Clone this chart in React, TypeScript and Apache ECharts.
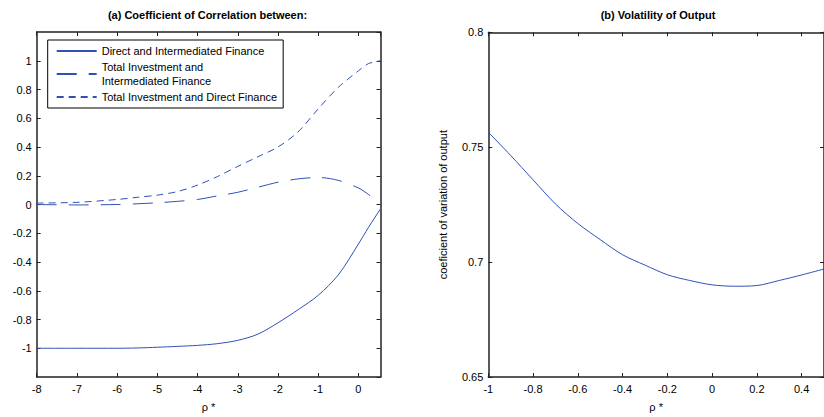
import React, { useEffect, useRef } from "react";
import * as echarts from "echarts";

// Panel (a): rho* grid and correlations
const rhoA = [-8, -7, -6, -5.5, -5, -4.5, -4, -3.5, -3, -2.5, -2, -1.5, -1, -0.5, 0, 0.25, 0.55];
const directIntermediated = [-1.0, -1.0, -1.0, -0.998, -0.993, -0.987, -0.98, -0.968, -0.945, -0.902, -0.823, -0.732, -0.632, -0.49, -0.275, -0.16, -0.03];
const investIntermediated = [0.0, -0.003, 0.0, 0.005, 0.012, 0.022, 0.035, 0.06, 0.085, 0.12, 0.155, 0.178, 0.188, 0.168, 0.115, 0.07, 0.005];
const investDirect = [0.01, 0.015, 0.035, 0.05, 0.065, 0.09, 0.135, 0.195, 0.265, 0.332, 0.4, 0.505, 0.665, 0.815, 0.93, 0.98, 1.0];

// Panel (b): volatility of output
const rhoB = [-1, -0.9, -0.8, -0.7, -0.6, -0.5, -0.4, -0.3, -0.2, -0.1, 0, 0.1, 0.2, 0.3, 0.4, 0.5];
const cvOutput = [0.7565, 0.7464, 0.7358, 0.7253, 0.7168, 0.7098, 0.7032, 0.6987, 0.6945, 0.692, 0.6901, 0.6895, 0.6898, 0.692, 0.6944, 0.697];

const seriesNames = [
  "Direct and Intermediated Finance",
  "Total Investment and\nIntermediated Finance",
  "Total Investment and Direct Finance",
];
const titles = ["(a) Coefficient of Correlation between:", "(b) Volatility of Output"];
const xName = "ρ *";
const yNameB = "coeficient of variation of output";

const FONT = "'Liberation Sans', Arial, sans-serif";
const BLUE = "#3050b8";
const AXIS = "#222";

const pairs = (xs: number[], ys: number[]) => xs.map((x, i) => [x, ys[i]]);

export default function App() {
  const ref = useRef<HTMLDivElement>(null);
  useEffect(() => {
    if (!ref.current) return;
    const chart = echarts.init(ref.current, undefined, { renderer: "svg" });
    const axisLine = { show: true, onZero: false, lineStyle: { color: AXIS, width: 1.5 } };
    const tick = { show: true, inside: true, length: 4, lineStyle: { color: AXIS, width: 1 } };
    const label = { color: "#000", fontSize: 11, fontFamily: FONT };
    const mkX = (gridIndex: number, min: number, max: number, interval: number, pos: "top" | "bottom") => ({
      type: "value",
      gridIndex,
      position: pos,
      min,
      max,
      interval,
      axisLine,
      axisTick: tick,
      splitLine: { show: false },
      axisLabel: pos === "bottom" ? { ...label, margin: 6, showMaxLabel: false } : { show: false },
      name: pos === "bottom" ? xName : "",
      nameLocation: "middle",
      nameGap: 24,
      nameTextStyle: { color: "#000", fontSize: 11, fontFamily: FONT },
    });
    const mkY = (gridIndex: number, min: number, max: number, interval: number, pos: "left" | "right", hideEnds: boolean, name = "") => ({
      type: "value",
      gridIndex,
      position: pos,
      min,
      max,
      interval,
      axisLine,
      axisTick: tick,
      splitLine: { show: false },
      axisLabel: pos === "left" ? { ...label, margin: 5, showMinLabel: !hideEnds, showMaxLabel: !hideEnds } : { show: false },
      name,
      nameLocation: "middle",
      nameGap: 40,
      nameTextStyle: { color: "#000", fontSize: 11, fontFamily: FONT },
    });
    chart.setOption({
      animation: false,
      textStyle: { fontFamily: FONT },
      title: [
        { text: titles[0], left: 207.5, top: 9, textAlign: "center", padding: 0, textStyle: { fontSize: 11, fontWeight: "bold", color: "#000", fontFamily: FONT } },
        { text: titles[1], left: 658, top: 9, textAlign: "center", padding: 0, textStyle: { fontSize: 11, fontWeight: "bold", color: "#000", fontFamily: FONT } },
      ],
      grid: [
        { left: 36.7, top: 32, width: 343.8, height: 345, containLabel: false },
        { left: 488.3, top: 32.3, width: 342.7, height: 345, containLabel: false },
      ],
      xAxis: [
        mkX(0, -8, 0.55, 1, "bottom"),
        mkX(0, -8, 0.55, 1, "top"),
        mkX(1, -1, 0.5, 0.2, "bottom"),
        mkX(1, -1, 0.5, 0.2, "top"),
      ],
      yAxis: [
        mkY(0, -1.2, 1.2, 0.2, "left", true),
        mkY(0, -1.2, 1.2, 0.2, "right", true),
        mkY(1, 0.65, 0.8, 0.05, "left", false, yNameB),
        mkY(1, 0.65, 0.8, 0.05, "right", false),
      ],
      legend: {
        left: 47.7,
        top: 40,
        orient: "vertical",
        selectedMode: false,
        backgroundColor: "#fff",
        borderColor: "#000",
        borderWidth: 1,
        borderRadius: 0,
        padding: [4, 6, 4, 8],
        itemGap: 2,
        itemWidth: 40,
        itemHeight: 14,
        itemStyle: { opacity: 0 },
        textStyle: { fontSize: 11, lineHeight: 14, color: "#000", fontFamily: FONT },
        data: seriesNames,
      },
      series: [
        {
          name: seriesNames[0], type: "line", xAxisIndex: 0, yAxisIndex: 0, smooth: 0.3, symbol: "none",
          lineStyle: { color: BLUE, width: 1, type: "solid" }, itemStyle: { color: BLUE },
          data: pairs(rhoA, directIntermediated),
        },
        {
          name: seriesNames[1], type: "line", xAxisIndex: 0, yAxisIndex: 0, smooth: 0.3, symbol: "none",
          lineStyle: { color: BLUE, width: 1, type: [20, 12] }, itemStyle: { color: BLUE },
          data: pairs(rhoA, investIntermediated),
        },
        {
          name: seriesNames[2], type: "line", xAxisIndex: 0, yAxisIndex: 0, smooth: 0.3, symbol: "none",
          lineStyle: { color: BLUE, width: 1, type: [7, 5] }, itemStyle: { color: BLUE },
          data: pairs(rhoA, investDirect),
        },
        {
          name: "cv", type: "line", xAxisIndex: 2, yAxisIndex: 2, smooth: 0.3, symbol: "none",
          lineStyle: { color: BLUE, width: 1 }, itemStyle: { color: BLUE },
          data: pairs(rhoB, cvOutput),
        },
      ],
    });
    return () => chart.dispose();
  }, []);
  return (
    <div
      ref={ref}
      style={{ position: "fixed", left: 0, top: 0, width: 824, height: 417, overflow: "hidden", background: "#fff" }}
    />
  );
}
